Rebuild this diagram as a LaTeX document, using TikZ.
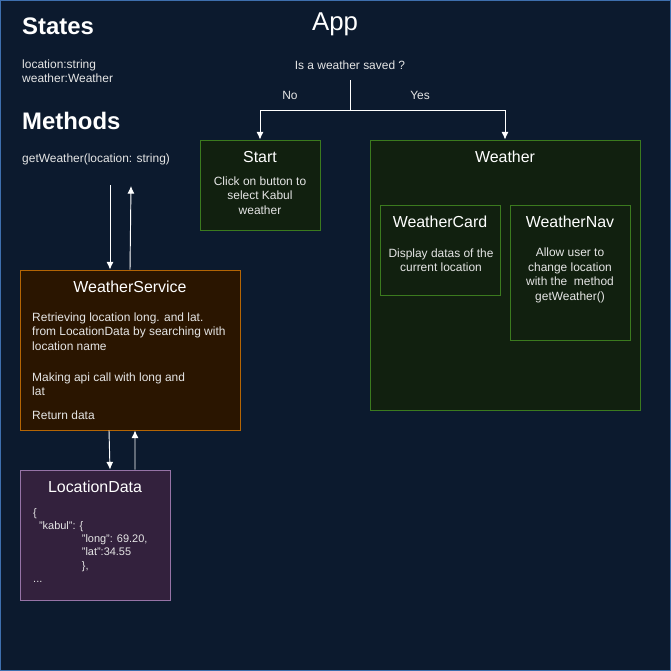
\documentclass[tikz,border=0pt]{standalone}
\usepackage{fontspec}
\setmainfont{Liberation Sans}
\usetikzlibrary{fit,calc,arrows.meta}
\definecolor{pagebg}{HTML}{0C1A2E}
\definecolor{pageframe}{HTML}{3E6FAE}
\definecolor{greenfill}{HTML}{11200F}
\definecolor{greenline}{HTML}{3B7A1E}
\definecolor{brownfill}{HTML}{2A1500}
\definecolor{brownline}{HTML}{B46504}
\definecolor{plumfill}{HTML}{33213D}
\definecolor{plumline}{HTML}{9673A6}
\definecolor{bodytext}{HTML}{E6E6E6}
\tikzset{
    heading/.style={text=white,inner sep=0pt,anchor=west,font=\fontsize{20.4pt}{24pt}\selectfont\bfseries},
    apptitle/.style={text=white,inner sep=0pt,font=\fontsize{22pt}{26pt}\selectfont},
    boxtitle/.style={text=white,inner sep=0pt,font=\fontsize{13.6pt}{16pt}\selectfont},
    small/.style={text=bodytext,inner sep=0pt,font=\fontsize{10.2pt}{12.3pt}\selectfont},
    tiny/.style={text=bodytext,inner sep=0pt,font=\fontsize{9.35pt}{11.3pt}\selectfont},
    compbox/.style={draw=greenline,fill=greenfill,line width=0.8pt,inner sep=0pt},
    servicebox/.style={draw=brownline,fill=brownfill,line width=0.8pt,inner sep=0pt},
    databox/.style={draw=plumline,fill=plumfill,line width=0.8pt,inner sep=0pt},
    flow/.style={draw=white,line width=0.8pt,-{Latex[length=6.5pt,width=6pt]}},
    plain/.style={draw=white,line width=0.8pt}
}
\begin{document}
\begin{tikzpicture}[x=0.03cm,y=-0.03cm]
        % page
        \draw[fill=pagebg,draw=pageframe,line width=0.8pt] (0.5,0.5) rectangle (670.5,670.5);
        \useasboundingbox (0,0) rectangle (671,671);

        % left column
        \node[heading] (states) at (22,26) {States};
        \node[small,anchor=west,align=left] (statelist) at (22,71) {location:string\\weather:Weather};
        \node[heading] (methods) at (22,121) {Methods};
        \node[small,anchor=west] (methodlist) at (22,159) {getWeather(location: string)};

        % app decision
        \node[apptitle] (app) at (335,24.5) {App};
        \node[small] (question) at (350,65) {Is a weather saved ?};
        \node[small] (no) at (290,95) {No};
        \node[small] (yes) at (420,95) {Yes};
        \coordinate (qfoot) at (350,80);
        \coordinate (split) at (350,110);

        % components
        \node[compbox,fit={(200,140) (320,230)}] (start) {};
        \node[boxtitle] (starttitle) at (260,157) {Start};
        \node[small,align=center] (starttext) at (260,195.5) {Click on button to\\select Kabul\\weather};

        \node[compbox,fit={(370,140) (640,410)}] (weather) {};
        \node[boxtitle] (weathertitle) at (505,157) {Weather};

        \node[compbox,fit={(380,205) (500,295)}] (wcard) {};
        \node[boxtitle] (wcardtitle) at (440,222) {WeatherCard};
        \node[small,align=center] (wcardtext) at (441,260.5) {Display datas of the\\current location};

        \node[compbox,fit={(510,205) (630,340)}] (wnav) {};
        \node[boxtitle] (wnavtitle) at (570,222) {WeatherNav};
        \node[small,align=center] (wnavtext) at (570,275.5) {Allow user to\\change location\\with the\ \ method\\getWeather()};

        % service
        \node[servicebox,fit={(20,270) (240,430)}] (wservice) {};
        \node[boxtitle] (wservicetitle) at (130,287) {WeatherService};
        \node[small,anchor=west,align=left] (wsfetch) at (32,331.5) {Retrieving location long. and lat.\\from LocationData by searching with\\location name};
        \node[small,anchor=west,align=left] (wscall) at (32,384) {Making api call with long and\\lat};
        \node[small,anchor=west] (wsreturn) at (32,415) {Return data};

        % data
        \node[databox,fit={(20,470) (170,600)}] (locdata) {};
        \node[boxtitle] (locdatatitle) at (95,487) {LocationData};
        \node[tiny,anchor=north west,align=left] (json) at (33,508) {\{\\
            \hspace*{5pt}"kabul": \{\\
            \hspace*{41.5pt}"long": 69.20,\\
            \hspace*{41.5pt}"lat":34.55\\
            \hspace*{41.5pt}\},\\
            ...};

        % connectors
        \draw[plain] (qfoot) -- (split);
        \draw[flow] (split) -| (start.north);
        \draw[flow] (split) -| (weather.north);

        \coordinate (callin) at (110,185);
        \coordinate (callout) at (131,186);
        \draw[flow] (callin) -- (callin |- wservice.north);
        \draw[flow] (wservice.north) -- (callout);

        \draw[flow] ([xshift=-0.63cm]wservice.south) -- ([xshift=0.45cm]locdata.north);
        \draw[flow] ([xshift=1.2cm]locdata.north) -- ([xshift=0.15cm]wservice.south);
    \end{tikzpicture}
\end{document}
